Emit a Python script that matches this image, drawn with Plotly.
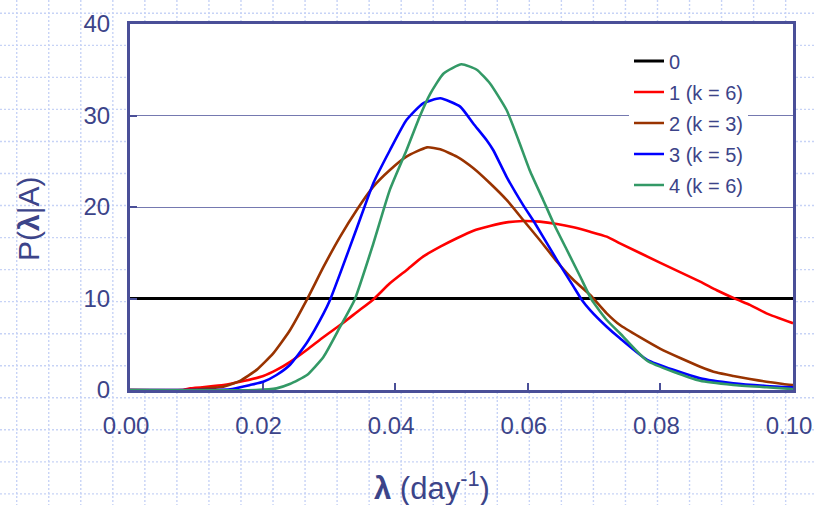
import plotly.graph_objects as go

# ---- data ----
names = ["0", "1 (k = 6)", "2 (k = 3)", "3 (k = 5)", "4 (k = 6)"]
colors = ["#000000", "#ff0000", "#993300", "#0000ff", "#339966"]

lam_0 = [0.0, 0.10]
p_0 = [10, 10]

lam_1 = [0.0, 0.008, 0.0091, 0.0141, 0.0166, 0.0201, 0.0221, 0.0241, 0.0267, 0.0292,
         0.0317, 0.0342, 0.0367, 0.0392, 0.0417, 0.0442, 0.0468, 0.0493, 0.0518, 0.0543,
         0.0568, 0.0593, 0.0618, 0.0644, 0.0669, 0.0694, 0.0719, 0.0739, 0.080, 0.086,
         0.0885, 0.0915, 0.0935, 0.096, 0.100]
p_1 = [0, 0, 0.18, 0.55, 0.9, 1.53, 2.19, 3.05, 4.4, 5.8,
       7.1, 8.5, 9.9, 11.66, 13.1, 14.57, 15.66, 16.58, 17.41, 17.92,
       18.32, 18.47, 18.4, 18.15, 17.78, 17.3, 16.76, 16.03, 13.9, 11.84,
       10.9, 9.9, 9.3, 8.38, 7.3]

lam_2 = [0.0, 0.009, 0.0116, 0.0141, 0.0166, 0.0191, 0.0216, 0.0241, 0.0267, 0.0292,
         0.0317, 0.0342, 0.0367, 0.0392, 0.0417, 0.0448, 0.0468, 0.0493, 0.0518, 0.0543,
         0.0568, 0.0593, 0.0618, 0.0644, 0.0669, 0.0694, 0.0719, 0.0739, 0.080, 0.086,
         0.0885, 0.091, 0.0935, 0.096, 0.0985, 0.100]
p_2 = [0, 0, 0.18, 0.36, 1.0, 2.2, 4.0, 6.5, 9.9, 13.48,
       16.76, 19.67, 22.22, 24.04, 25.5, 26.52, 26.3, 25.5, 24.23, 22.59,
       20.77, 18.58, 16.39, 14.02, 12.02, 10.38, 8.38, 7.1, 4.5, 2.55,
       1.9, 1.53, 1.2, 0.91, 0.66, 0.55]

lam_3 = [0.0, 0.013, 0.0151, 0.0181, 0.0201, 0.0221, 0.0241, 0.0267, 0.0292, 0.0302,
         0.0317, 0.0342, 0.0367, 0.0392, 0.0417, 0.0442, 0.0468, 0.0498, 0.0518, 0.0538,
         0.0548, 0.0568, 0.0593, 0.0611, 0.0644, 0.0669, 0.0681, 0.0694, 0.0719, 0.0739,
         0.078, 0.086, 0.091, 0.096, 0.100]
p_3 = [0, 0, 0.07, 0.55, 0.9, 1.64, 2.73, 5.2, 8.38, 9.9,
       12.75, 17.67, 22.6, 26.2, 29.5, 31.33, 31.88, 30.97, 29.1, 27.3,
       26.2, 23.3, 20.2, 18.2, 14.2, 11.3, 9.9, 8.74, 6.92, 5.65,
       3.3, 1.27, 0.73, 0.44, 0.29]

lam_4 = [0.0, 0.019, 0.0221, 0.0241, 0.0267, 0.0292, 0.0317, 0.0339, 0.0367, 0.0392,
         0.0417, 0.0437, 0.0453, 0.0473, 0.0500, 0.0523, 0.0543, 0.0568, 0.0586, 0.0603,
         0.0623, 0.0639, 0.0659, 0.0679, 0.0696, 0.0719, 0.0739, 0.078, 0.086, 0.091,
         0.096, 0.100]
p_4 = [0, 0, 0.18, 0.65, 1.64, 3.64, 6.92, 9.9, 16.0, 21.9,
       26.2, 29.9, 32.4, 34.6, 35.6, 35.0, 33.5, 30.6, 27.3, 24.0,
       20.8, 18.2, 15.3, 12.4, 9.9, 7.65, 6.2, 3.2, 1.0, 0.55,
       0.3, 0.1]

x_ticks = [0.00, 0.02, 0.04, 0.06, 0.08, 0.10]
y_ticks = [0, 10, 20, 30, 40]

series_x = [lam_0, lam_1, lam_2, lam_3, lam_4]
series_y = [p_0, p_1, p_2, p_3, p_4]

# ---- styling ----
W, H = 815, 505
L, R, T, B = 130, 22, 24, 115
pw, ph = W - L - R, H - T - B
TEXT = "#3c4489"
LINE = "#4a4f98"
FONT = "Liberation Sans, Arial, sans-serif"


def px2x(px):
    return (px - L) / pw


def py2y(py):
    return (H - B - py) / ph


fig = go.Figure()
for i in range(5):
    fig.add_trace(go.Scatter(
        x=series_x[i], y=series_y[i], mode="lines", name=names[i],
        legendgroup="g%d" % i,
        line=dict(color=colors[i], width=3 if i == 0 else 2.6,
                  shape="spline", smoothing=0.5),
    ))

shapes = []
# dotted slide-background grid
gx = 16.7
while gx < W:
    shapes.append(dict(type="line", xref="paper", yref="paper", layer="below",
                       x0=px2x(gx), x1=px2x(gx), y0=py2y(0), y1=py2y(H),
                       line=dict(color="#c7d3f6", width=1.4, dash="2px,2px")))
    gx += 32.04
gy = 13.3
while gy < H:
    shapes.append(dict(type="line", xref="paper", yref="paper", layer="below",
                       x0=px2x(0), x1=px2x(W), y0=py2y(gy), y1=py2y(gy),
                       line=dict(color="#c7d3f6", width=1.4, dash="2px,2px")))
    gy += 32.04
# white plot area
shapes.append(dict(type="rect", xref="paper", yref="paper", layer="below",
                   x0=0, x1=1, y0=0, y1=1, fillcolor="white", line=dict(width=0)))

annotations = [
    dict(text="P(<b>λ</b>|A)", xref="paper", yref="paper", x=px2x(28), y=py2y(219),
         textangle=-90, showarrow=False, xanchor="center", yanchor="middle",
         font=dict(family=FONT, size=30, color=TEXT)),
    dict(text="<b>λ</b> (day<sup>-1</sup>)", xref="paper", yref="paper",
         x=px2x(432), y=py2y(486), showarrow=False, xanchor="center", yanchor="middle",
         font=dict(family=FONT, size=31, color=TEXT)),
]

fig.update_layout(
    width=W, height=H, autosize=False,
    margin=dict(l=L, r=R, t=T, b=B, pad=0, autoexpand=False),
    paper_bgcolor="white", plot_bgcolor="white",
    font=dict(family=FONT, color=TEXT),
    shapes=shapes, annotations=annotations,
    showlegend=True,
    legend=dict(x=px2x(629), y=py2y(41.5), xanchor="left", yanchor="top",
                bgcolor="white", borderwidth=0, tracegroupgap=2,
                font=dict(family=FONT, size=20, color=TEXT)),
    xaxis=dict(range=[0, 0.1], tickvals=x_ticks, tickformat=".2f", automargin=False,
               showgrid=False, zeroline=False,
               showline=True, linecolor=LINE, linewidth=3, mirror=True,
               ticks="inside", ticklen=7, tickwidth=1.5, tickcolor=LINE,
               ticklabelstandoff=12, ticklabelshift=-4,
               tickfont=dict(family=FONT, size=24, color=TEXT)),
    yaxis=dict(range=[0, 40], tickvals=y_ticks, automargin=False,
               showgrid=True, gridcolor="#7579b0", gridwidth=1.3, zeroline=False,
               showline=True, linecolor=LINE, linewidth=3, mirror=True,
               ticks="inside", ticklen=7, tickwidth=1.5, tickcolor=LINE,
               ticklabelstandoff=12,
               tickfont=dict(family=FONT, size=24, color=TEXT)),
)

fig.write_html("out.html",
               config={"displayModeBar": False},
               post_script="document.body.style.margin='0px';document.body.style.padding='0px';")
